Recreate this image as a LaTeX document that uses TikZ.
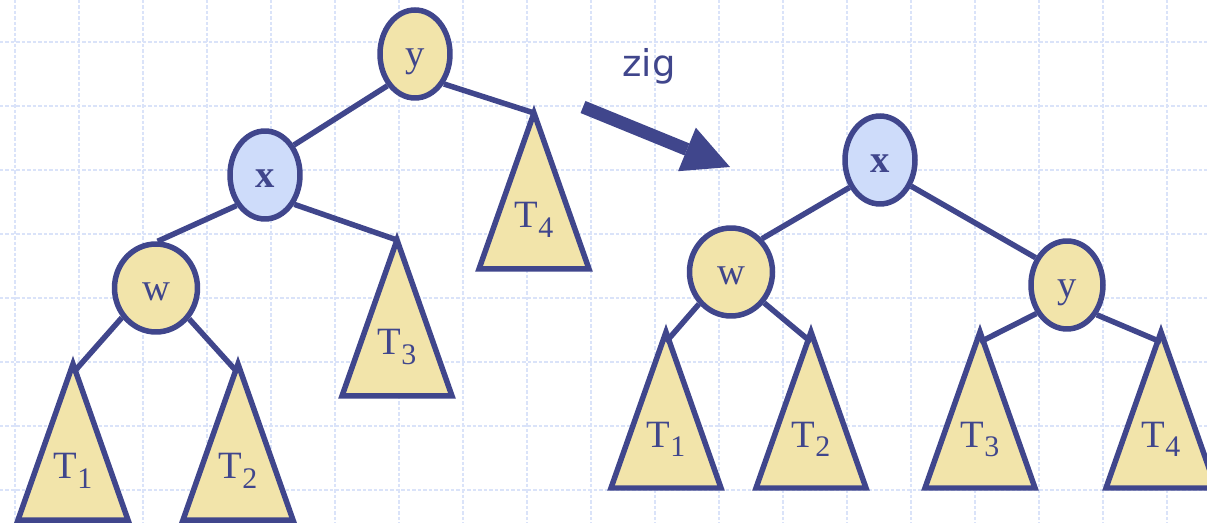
\documentclass[tikz,border=0pt]{standalone}
\usepackage{fontspec}
\setmainfont{Liberation Serif}
\newfontfamily\zigfont{DejaVu Sans}
\usepackage{tikz}
\usetikzlibrary{arrows.meta, shapes.geometric}
\usepackage{xcolor}
\definecolor{tree_blue}{HTML}{40468C}
\definecolor{node_yellow}{HTML}{F2E4AA}
\definecolor{node_blue}{HTML}{CEDCFA}
\definecolor{grid_blue}{HTML}{DAE3F9}

\begin{document}
\begin{tikzpicture}[
    x=0.02cm, y=-0.02cm,
    gridline/.style={grid_blue, line width=0.025cm, dash pattern=on 0.07cm off 0.04cm},
    keynode/.style={ellipse, draw=tree_blue, line width=0.11cm, inner sep=0pt,
        minimum width=1.4cm, minimum height=1.76cm, text=tree_blue,
        text height=0.6cm, text depth=0.08cm, font=\fontsize{22}{22}\selectfont},
    yellowkey/.style={keynode, fill=node_yellow},
    bluekey/.style={keynode, fill=node_blue, font=\fontsize{22}{22}\selectfont\bfseries},
    link/.style={tree_blue, line width=0.11cm},
    subtree/.style={draw=tree_blue, fill=node_yellow, line width=0.11cm, line join=miter},
    treelabel/.style={anchor=base, text=tree_blue, inner sep=0pt, font=\fontsize{22}{22}\selectfont},
    zigarrow/.style={tree_blue, line width=0.26cm, -{Triangle[length=0.93cm, width=0.94cm, line width=0pt]}}
]

	\useasboundingbox (0,0) rectangle (1207,523);
	\fill [white] (0,0) rectangle (1207,523);
	\foreach \x in {15,79,...,1207} {
        \draw [gridline] (\x,0) -- (\x,523);
    }
	\foreach \y in {42,106,...,523} {
        \draw [gridline] (0,\y) -- (1207,\y);
    }

	\foreach \name/\ax/\ay/\num in {lt1/73/364/1, lt2/238/364/2, lt3/397/240/3, lt4/534/113/4,
            rt1/666/332/1, rt2/811/332/2, rt3/980/332/3, rt4/1161/332/4} {
        \coordinate (\name) at (\ax,\ay);
        \draw [subtree] (\name) -- ++(-55,156) -- ++(110,0) -- cycle;
        \node[treelabel] (\name-text) at (\ax,{\ay+115}) {T\raisebox{-0.2cm}{\fontsize{17}{17}\selectfont\num}};
    }

	\node[yellowkey] (ly) at (415,54) {y};
	\node[bluekey] (lx) at (265,175) {x};
	\node[yellowkey, minimum width=1.66cm] (lw) at (156,288) {w};
	\draw [link] (ly.-131) -- (lx.46);
	\draw [link] (ly.-46) -- (lt4);
	\draw [link] (lx.-133) -- (lw.88);
	\draw [link] (lx.-45) -- (lt3);
	\draw [link] (lw.-139) -- ([yshift=-0.18cm]lt1);
	\draw [link] (lw.-43) -- ([yshift=-0.18cm]lt2);

	\node[bluekey] (rx) at (880,160) {x};
	\node[yellowkey, minimum width=1.66cm] (rw) at (731,272) {w};
	\node[yellowkey, minimum width=1.44cm] (ry) at (1067,285) {y};
	\draw [link] (rx.-138) -- (rw.47);
	\draw [link] (rx.-40) -- (ry.139);
	\draw [link] (rw.-135) -- ([yshift=-0.2cm]rt1);
	\draw [link] (rw.-43) -- ([yshift=-0.2cm]rt2);
	\draw [link] (ry.-137) -- ([yshift=-0.2cm]rt3);
	\draw [link] (ry.-45) -- ([yshift=-0.2cm]rt4);

	\coordinate (zigstart) at (583,107);
	\coordinate (zigend) at (730,167);
	\draw [zigarrow] (zigstart) -- (zigend);
	\node[anchor=base, text=tree_blue, inner sep=0pt, font=\zigfont\fontsize{21}{21}\selectfont] (ziglabel) at (649,77) {zig};
\end{tikzpicture}
\end{document}
